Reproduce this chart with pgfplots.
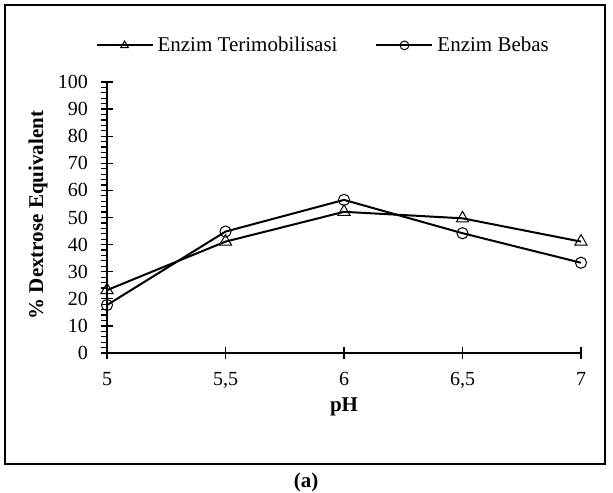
\documentclass[border=0pt]{standalone}
\usepackage{pgfplots}
\pgfplotsset{compat=1.18}
\usepackage{fontspec}
\setmainfont{Liberation Serif}

\begin{document}
\fontsize{10}{12}\selectfont
\begin{tikzpicture}
\path[use as bounding box] (0pt,0pt) rectangle (306.5pt,246pt);
\draw[line width=0.6pt] (2.5pt,14pt) rectangle (302.5pt,243.5pt);
\node[font=\fontsize{10.5}{12}\selectfont\bfseries] at (153pt,5pt) {(a)};
\begin{axis}[
    at={(53.5pt,69.5pt)}, anchor=south west,
    scale only axis, width=237pt, height=135.5pt,
    xmin=5, xmax=7, ymin=0, ymax=100,
    axis lines*=left,
    axis line style={-, line width=0.8pt},
    xtick={5,5.5,6,6.5,7},
    xticklabels={5,{5,5},6,{6,5},7},
    ytick={0,10,...,100},
    minor y tick num=4,
    tick align=center,
    major tick length=6pt,
    minor tick length=3pt,
    every tick/.style={black, line width=0.6pt},
    minor y tick style={xshift=-1.5pt},
    /pgf/number format/assume math mode=true,
    ticklabel style={font=\fontsize{10}{12}\selectfont},
    xticklabel style={yshift=-3pt},
    yticklabel style={xshift=-3pt},
    ylabel={\% Dextrose Equivalent},
    ylabel style={at={(rel axis cs:-0.1456,0.509)}, anchor=center,
                  font=\fontsize{10.5}{12}\selectfont\bfseries},
    xlabel={pH},
    xlabel style={at={(rel axis cs:0.5,-0.2)}, anchor=center,
                  font=\fontsize{10.5}{12}\selectfont\bfseries},
    legend columns=2,
    legend style={draw=none, fill=none, at={(rel axis cs:-0.025,1.135)}, anchor=west,
                  inner sep=0pt, font=\fontsize{10.5}{12}\selectfont,
                  /tikz/every even column/.append style={column sep=17pt}},
    legend image code/.code={
        \draw[#1, mark=none] (0pt,0pt) -- (28pt,0pt);
        \draw[#1, line width=0.5pt, mark size=2.2pt] plot coordinates {(14pt,0pt)};
    },
]
\addplot[black, line width=1pt, mark=triangle, mark size=3.5pt,
         mark options={line width=0.5pt, fill=none}]
    coordinates {(5,23.2) (5.5,41.1) (6,52.1) (6.5,49.7) (7,41.1)};
\addlegendentry{Enzim Terimobilisasi}
\addplot[black, line width=1pt, mark=o, mark size=2.8pt,
         mark options={line width=0.5pt, fill=none}]
    coordinates {(5,17.7) (5.5,44.8) (6,56.5) (6.5,44.2) (7,33.3)};
\addlegendentry{Enzim Bebas}
\end{axis}
\end{tikzpicture}
\end{document}
